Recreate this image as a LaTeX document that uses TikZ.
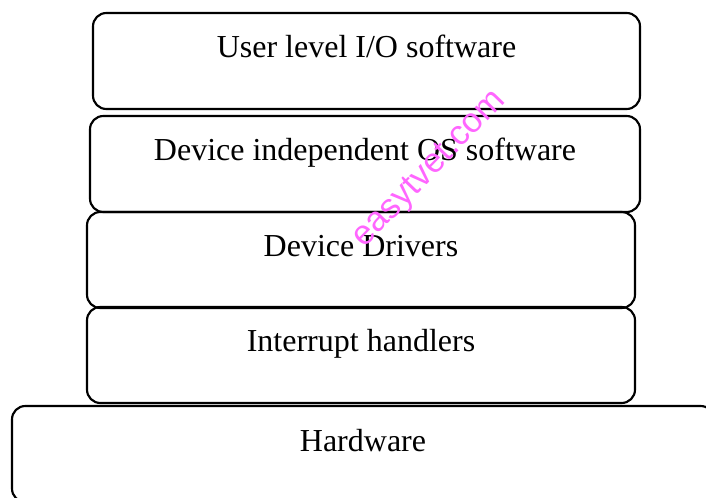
\documentclass[tikz,border=0pt]{standalone}
\usepackage{fontspec}
\setmainfont{Liberation Serif}
\newfontfamily\wmfont{Liberation Sans}
\usepackage{tikz}
\usetikzlibrary{positioning}
\usepackage{xcolor}
\definecolor{wmpink}{HTML}{FF66FF}

\begin{document}
\begin{tikzpicture}[
  x=0.75pt, y=-0.75pt,
  layer/.style={draw, line width=1.6pt, rounded corners=10pt, inner sep=0pt,
    text height=33.75pt, text depth=38.25pt, font=\fontsize{24}{28}\selectfont},
  wmtext/.style={text=wmpink, rotate=46, inner sep=0pt, font=\wmfont\fontsize{26}{30}\selectfont}
]
  \clip (0,0) rectangle (706,498);

  % Layers, top to bottom
  \node[layer, minimum width=410.25pt] (user) at (366.5, 61) {User level I/O software};
  \node[layer, minimum width=412.5pt] (indep) at (365, 164) {Device independent OS software};
  \node[layer, minimum width=411pt] (drivers) at (361, 260) {Device Drivers};
  \node[layer, minimum width=411pt] (irq) at (361, 355) {Interrupt handlers};
  \node[layer, minimum width=526.5pt] (hw) at (363, 454) {Hardware};

  % Watermark
  \node[wmtext] (wm) at (430, 170) {easytvet.com};
\end{tikzpicture}
\end{document}
